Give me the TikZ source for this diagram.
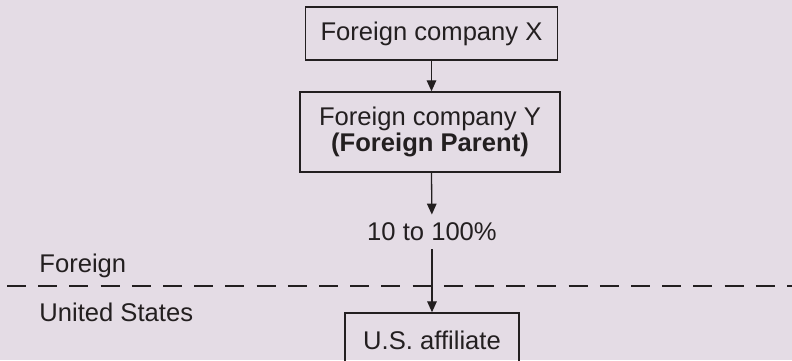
\documentclass[tikz,border=0pt]{standalone}
\usepackage{fontspec}
\setmainfont{Liberation Sans}
\usepackage{tikz}
\usetikzlibrary{arrows.meta,positioning}
\definecolor{bgcol}{RGB}{228,220,229}
\definecolor{inkcol}{RGB}{35,31,32}
\tikzset{
>={Triangle[length=5.5bp,width=4.8bp]},
  firm/.style={
    rectangle,
    draw=inkcol, line width=0.75bp,
    text=inkcol,
    align=center,
    inner sep=0pt,
    font=\fontsize{12.8bp}{13.4bp}\selectfont},
  link/.style={draw=inkcol, line width=0.65bp, ->},
  side label/.style={
    text=inkcol,
    inner sep=0pt,
    font=\fontsize{12.8bp}{13.4bp}\selectfont},
  border/.style={draw=inkcol, line width=1bp, dash pattern=on 9.5bp off 6.1bp},
}

\begin{document}
\begin{tikzpicture}[x=0.5bp, y=-0.5bp]
    \fill[bgcol] (0,0) rectangle (792,360);
    \useasboundingbox (0,0) rectangle (792,360);

    %owners
    \node[firm, minimum width=126bp, minimum height=26.5bp] (compX) at (431.5,33.5)
        {Foreign company X};
    \node[firm, minimum width=130bp, minimum height=40bp] (compY) at (430,132)
        {Foreign company Y\\\textbf{(Foreign Parent)}};
    \node[side label, inner ysep=4bp] (share) at (432,232) {10 to 100\%};

    %affiliate
    \node[firm, minimum width=87bp, minimum height=27bp] (affil) at (432,340)
        {U.S. affiliate};

    %border
    \coordinate (bordL) at (7,286);
    \coordinate (bordR) at (800,286);
    \draw[border] (bordL) -- (bordR);
    \node[side label, anchor=base west] (forLab) at (39,272) {Foreign};
    \node[side label, anchor=base west] (usLab) at (39,321) {United States};

    %connections
    \draw[link] (compX.south) -- (compX.south |- compY.north);
    \draw[link] (compX.south |- compY.south) -- (share);
    \draw[link] (share) -- (affil);
\end{tikzpicture}
\end{document}
